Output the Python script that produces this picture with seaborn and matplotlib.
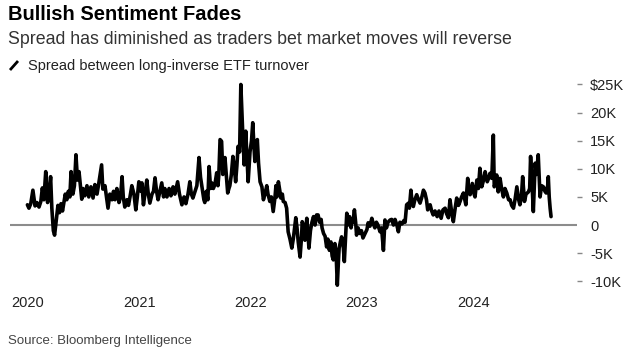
import matplotlib
matplotlib.use("Agg")
import matplotlib.pyplot as plt
import seaborn as sns
import pandas as pd
from matplotlib.lines import Line2D

# ---------------- data ----------------
# days since 2020-01-01 for each observation
days = [0, 5, 11, 18, 25, 31, 38, 44, 49, 54, 60, 66, 70, 76, 80, 85, 89, 96, 100, 105,
        110, 115, 120, 124, 129, 134, 139, 143, 149, 154, 159, 164, 169, 178, 182, 188, 195, 201, 208, 215,
        221, 228, 234, 243, 247, 254, 259, 264, 270, 277, 282,
        287, 293, 300, 305, 310, 314, 319, 326, 331, 336, 342, 349, 355, 360, 365, 372, 375, 380, 385, 391,
        396, 401, 408, 413, 418, 423, 428, 434, 440, 446, 450, 457, 464, 470, 477, 483, 492, 498, 506, 513,
        519, 526, 532, 537, 542, 549, 555, 562, 567, 572, 578, 581,
        586, 591, 595, 600, 604, 609, 614, 620, 624, 627, 631, 636, 640, 647, 652, 656, 660, 663, 668, 673,
        678, 682, 686, 690, 695, 699, 705, 710, 715, 719, 723, 729, 734, 738, 742, 745, 753, 757, 762, 768,
        773, 778, 784, 788, 794, 799, 805, 811, 814, 817, 822, 827, 830, 835, 838, 844, 849, 854, 860, 866,
        871, 879, 883, 887, 893, 898, 900, 904, 909,
        915, 919, 922, 927, 932, 937, 942, 947, 952, 957, 962, 965, 970, 975, 980, 984, 989, 994, 998, 1002,
        1007, 1011, 1015, 1019, 1021, 1025, 1029, 1034, 1038, 1042, 1046, 1050, 1055, 1060, 1063, 1066, 1071,
        1075, 1078, 1083, 1089, 1094, 1099, 1106, 1112, 1116, 1122, 1128, 1133, 1138, 1143, 1148, 1155, 1160,
        1166, 1171, 1176, 1181, 1188,
        1193, 1199, 1204, 1210, 1215, 1220, 1227, 1233, 1237, 1242, 1248, 1251, 1256, 1260, 1264, 1269, 1275,
        1281, 1286, 1291, 1297, 1302, 1307, 1311, 1315, 1319, 1324, 1329, 1335, 1342, 1348, 1355, 1361, 1368,
        1373, 1379, 1384, 1389, 1395, 1401, 1406, 1412, 1417, 1422, 1428, 1436, 1442, 1446, 1450, 1457, 1463,
        1466, 1472, 1477, 1482, 1488, 1494, 1499, 1506, 1512, 1515, 1521, 1526, 1529, 1533, 1537, 1542, 1548,
        1553, 1559, 1564, 1570, 1576, 1581, 1586, 1592, 1597, 1603, 1609, 1613, 1618, 1622, 1628, 1633, 1641,
        1645, 1648, 1653, 1657, 1663, 1667, 1673, 1679, 1684, 1690, 1695, 1699, 1704, 1706, 1709, 1712, 1715]

# spread between long and inverse ETF turnover, $ thousands
spread_k = [3.6, 3.0, 3.8, 6.2, 3.4, 4.0, 3.2, 4.2, 6.6, 4.5, 9.5, 4.0, 5.0, 8.6, 3.0, -1.0, -1.8, 1.5, 3.5, 2.2,
            3.8, 2.5, 4.2, 5.5, 4.5, 6.0, 5.0, 9.5, 5.5, 7.0, 12.5, 8.0, 9.5, 4.6, 6.5, 5.2, 7.0, 5.0, 6.8, 4.8,
            7.2, 5.5, 7.5, 10.7, 6.4, 7.0, 5.0, 3.0, 5.5, 4.5, 6.0,
            4.5, 6.5, 4.0, 5.0, 8.6, 5.0, 3.2, 4.5, 3.5, 5.0, 7.0, 5.5, 2.7, 5.0, 7.7, 6.0, 7.5, 3.6, 5.5, 8.0,
            5.5, 3.9, 5.5, 6.0, 8.4, 6.0, 4.5, 6.0, 7.5, 5.0, 6.5, 5.0, 6.5, 5.2, 6.8, 5.5, 7.7, 5.5, 3.6, 5.0,
            3.8, 5.5, 7.7, 5.5, 4.8, 6.0, 7.0, 12.0, 8.5, 6.7, 4.5, 4.0,
            6.0, 4.5, 10.4, 6.5, 7.5, 6.5, 7.2, 9.3, 7.0, 9.0, 15.2, 14.9, 9.0, 12.0, 8.5, 5.7, 6.5, 7.0, 9.0, 12.2,
            10.0, 7.7, 10.5, 14.0, 13.0, 25.0, 16.7, 10.7, 16.7, 12.0, 7.7, 13.0, 15.0, 18.2, 14.0, 11.3, 15.2, 11.0, 7.7, 6.8,
            4.5, 5.5, 7.0, 5.5, 4.2, 5.0, 2.4, 5.0, 7.0, 5.0, 7.7, 6.0, 4.8, 5.5, 4.2, 4.0, 3.0, -1.2, -2.5, -4.1,
            -2.4, 1.3, -0.5, -3.0, -5.7, -2.0, 0.6, 0.0, -2.7,
            1.2, -1.5, -4.1, -1.0, 0.5, 1.5, 0.0, 1.8, 1.8, 0.5, 1.0, -0.5, -1.5, -2.0, -3.9, -2.5, -4.5, -3.0, -5.5, -6.2,
            -3.3, -5.0, -10.7, -6.0, -4.1, -3.0, -2.1, -3.5, -6.5, -2.0, 2.1, 0.0, 1.5, -0.5, 1.0, 0.5, 2.7,
            0.5, -1.8, -0.5, -1.5, -1.0, -2.3, -1.5, -0.8, 0.4, -0.2, 1.2, 0.2, -0.5, 0.5, 0.0, -1.2, -0.5,
            -4.5, 0.9, -0.5, 0.5, 0.9,
            1.0, 0.0, 1.0, 0.0, -1.2, 0.5, 0.2, 0.8, 0.5, 3.6, 3.9, 3.0, 6.2, 4.0, 3.3, 4.5, 5.4,
            4.5, 3.9, 4.8, 6.2, 5.7, 4.5, 2.7, 3.2, 3.6, 2.5, 1.8, 2.5, 1.5, 2.5, 1.2, 2.7, 3.0,
            2.0, 1.3, 4.5, 2.5, 0.6, 3.0, 4.8, 3.5, 4.2, 5.0, 5.7, 3.6, 8.3, 6.0, 5.4, 7.4, 5.5,
            5.0, 8.0, 6.5, 10.1, 6.8, 8.0, 9.5, 7.7, 8.5, 9.2, 8.3, 16.0, 6.8, 7.5, 8.9, 5.9, 8.3,
            6.5, 5.0, 6.5, 5.7, 4.5, 4.5, 3.5, 3.0, 4.5, 6.8, 4.5, 3.6, 5.0, 8.6, 4.2, 5.5, 5.9,
            6.5, 12.2, 7.0, 2.4, 11.0, 9.0, 12.5, 5.0, 7.0, 6.8, 6.0, 5.7, 7.0, 8.6, 5.0, 3.0, 1.5]

year_ticks = [2020, 2021, 2022, 2023, 2024]
y_tick_values = [-10, -5, 0, 5, 10, 15, 20, 25]
y_tick_labels = ["-10K", "-5K", "0", "5K", "10K", "15K", "20K", "$25K"]

title = "Bullish Sentiment Fades"
subtitle = "Spread has diminished as traders bet market moves will reverse"
legend_label = "Spread between long-inverse ETF turnover"
source = "Source: Bloomberg Intelligence"

# ---------------- plotting ----------------
sns.set_style("white")
plt.rcParams["font.family"] = ["Liberation Sans", "DejaVu Sans"]

W, H = 633, 350
fig = plt.figure(figsize=(W / 100, H / 100), dpi=100)
fig.patch.set_facecolor("white")

ax_left, ax_right, ax_top, ax_bottom = 10, 577, 80, 288
ax = fig.add_axes([ax_left / W, 1 - ax_bottom / H, (ax_right - ax_left) / W, (ax_bottom - ax_top) / H])

start = pd.Timestamp("2020-01-01")
df = pd.DataFrame({"date": start + pd.to_timedelta(days, unit="D"), "spread": spread_k})

ax.axhline(0, color="#8c8c8c", lw=1.5, zorder=1)
sns.lineplot(data=df, x="date", y="spread", ax=ax, color="black", linewidth=2.6, zorder=3)

ax.set_xlim(start - pd.Timedelta(days=57), start + pd.Timedelta(days=1800))
ax.set_ylim(-11.2, 25.8)

ax.set_xticks([pd.Timestamp(f"{y}-01-01") for y in year_ticks])
ax.set_xticklabels([str(y) for y in year_ticks])
ax.tick_params(axis="x", direction="in", length=4.5, width=1, color="#666666",
               pad=6, labelsize=10.5, labelcolor="#222222")

ax.yaxis.tick_right()
ax.set_yticks(y_tick_values)
ax.set_yticklabels(y_tick_labels)
ax.tick_params(axis="y", direction="out", length=3.5, width=1, color="#888888",
               pad=6, labelsize=10.5, labelcolor="#222222")
for t, v in zip(ax.yaxis.get_major_ticks(), y_tick_values):
    if v == 0:
        t.tick2line.set_visible(False)

for s in ax.spines.values():
    s.set_visible(False)
ax.set_xlabel("")
ax.set_ylabel("")
ax.grid(False)

fig.text(8 / W, 1 - 20 / H, title, fontsize=14.5, fontweight="bold", color="black", va="baseline")
fig.text(8 / W, 1 - 44 / H, subtitle, fontsize=12.8, color="#333333", va="baseline")
fig.add_artist(Line2D([10 / W, 18 / W], [1 - 70 / H, 1 - 61 / H], color="black", lw=2,
                      solid_capstyle="butt", transform=fig.transFigure))
fig.text(28 / W, 1 - 70 / H, legend_label, fontsize=10.5, color="#222222", va="baseline")
fig.text(8 / W, 1 - 344 / H, source, fontsize=9.5, color="#444444", va="baseline")

fig.savefig("out.png", dpi=100, facecolor="white")
